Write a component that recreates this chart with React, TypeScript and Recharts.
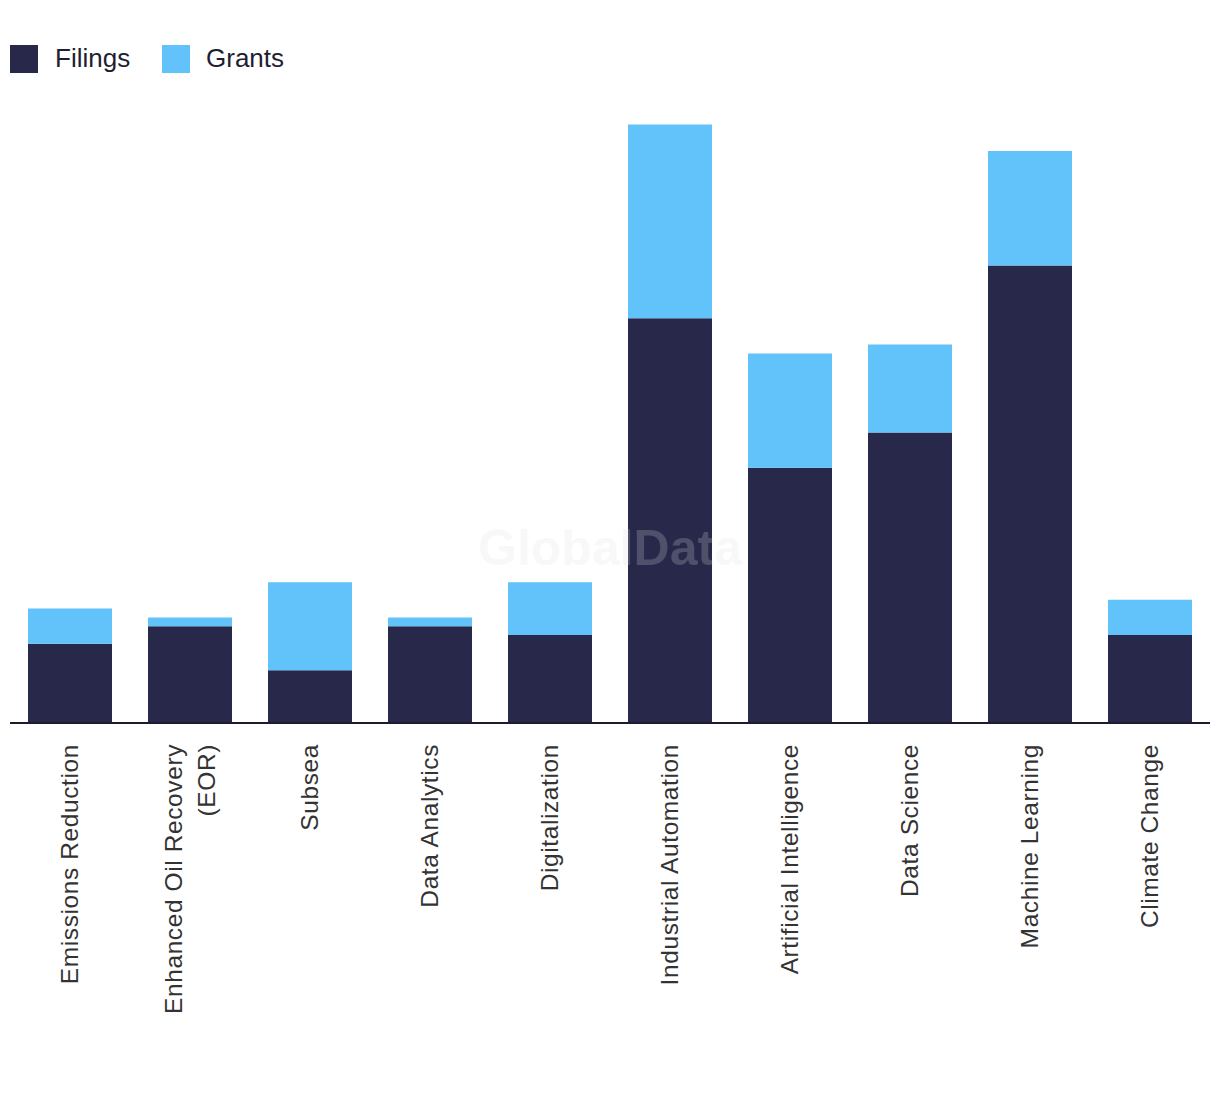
import React from "react";
import { BarChart, Bar, XAxis, YAxis } from "recharts";

const categories = [
  "Emissions Reduction",
  "Enhanced Oil Recovery|(EOR)",
  "Subsea",
  "Data Analytics",
  "Digitalization",
  "Industrial Automation",
  "Artificial Intelligence",
  "Data Science",
  "Machine Learning",
  "Climate Change",
];
const filings = [9, 11, 6, 11, 10, 46, 29, 33, 52, 10];
const grants = [4, 1, 10, 1, 6, 22, 13, 10, 13, 4];

const FILINGS_COLOR = "#27284a";
const GRANTS_COLOR = "#62c2fa";

const data = categories.map((c, i) => ({ name: c, filings: filings[i], grants: grants[i] }));

const Tick = (props: any) => {
  const { x, y, payload } = props;
  const lines = String(payload.value).split("|");
  const lh = 33;
  const start = -((lines.length - 1) / 2) * lh;
  return (
    <g transform={`translate(${x},${y})`}>
      <text
        transform="rotate(-90)"
        textAnchor="end"
        fill="#333"
        fontSize={24.5}
        letterSpacing={0.6}
        fontFamily="'Liberation Sans', Arial, sans-serif"
      >
        {lines.map((l, i) => (
          <tspan key={i} x={0} y={start + i * lh + 8}>
            {l}
          </tspan>
        ))}
      </text>
    </g>
  );
};

export default function App() {
  return (
    <div style={{ position: "absolute", left: 0, top: 0, width: 1220, height: 1094, background: "#fff" }}>
      <div style={{ position: "absolute", left: 0, top: 0 }}>
        <BarChart
          width={1220}
          height={1094}
          data={data}
          margin={{ top: 107, right: 10, bottom: 0, left: 10 }}
          barCategoryGap="15%"
        >
          <YAxis hide domain={[0, 70]} />
          <XAxis
            dataKey="name"
            height={371}
            interval={0}
            tickLine={false}
            axisLine={{ stroke: "#1c1c2e", strokeWidth: 2 }}
            tick={<Tick />}
            tickMargin={15}
          />
          <Bar dataKey="filings" stackId="a" fill={FILINGS_COLOR} isAnimationActive={false} />
          <Bar dataKey="grants" stackId="a" fill={GRANTS_COLOR} isAnimationActive={false} />
        </BarChart>
      </div>
      <div
        style={{
          position: "absolute",
          left: 0,
          top: 0,
          fontFamily: "'Liberation Sans', Arial, sans-serif",
          fontSize: 26,
          color: "#1e1e30",
        }}
      >
        <div style={{ position: "absolute", left: 10, top: 45, width: 28, height: 28, background: FILINGS_COLOR }} />
        <div style={{ position: "absolute", left: 55, top: 43, whiteSpace: "nowrap", lineHeight: "30px" }}>Filings</div>
        <div style={{ position: "absolute", left: 162, top: 45, width: 28, height: 28, background: GRANTS_COLOR }} />
        <div style={{ position: "absolute", left: 206, top: 43, whiteSpace: "nowrap", lineHeight: "30px" }}>Grants</div>
      </div>
      <div
        style={{
          position: "absolute",
          left: 460,
          top: 519,
          width: 300,
          textAlign: "center",
          fontFamily: "'Liberation Sans', Arial, sans-serif",
          fontWeight: 700,
          fontSize: 50,
          lineHeight: "58px",
          color: "rgba(221,221,221,0.22)",
          whiteSpace: "nowrap",
          pointerEvents: "none",
        }}
      >
        GlobalData
      </div>
    </div>
  );
}
